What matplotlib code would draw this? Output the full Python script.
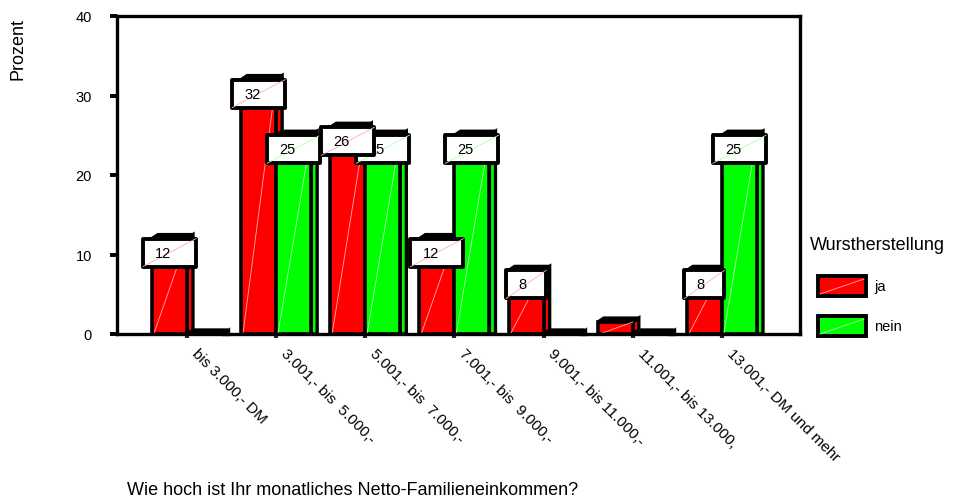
import numpy as np
import matplotlib
matplotlib.use("Agg")
import matplotlib.pyplot as plt
from matplotlib.patches import Polygon, Rectangle
from matplotlib.transforms import ScaledTranslation

plt.rcParams['font.family'] = ['Liberation Sans', 'DejaVu Sans']

# data (Prozent)
categories = ["bis 3.000,- DM", "3.001,- bis  5.000,-", "5.001,- bis  7.000,-",
              "7.001,- bis  9.000,-", "9.001,- bis 11.000,-", "11.001,- bis 13.000,",
              "13.001,- DM und mehr"]
ja = [12, 32, 26, 12, 8, 1.5, 8]
nein = [0, 25, 25, 25, 0, 0, 25]
series_names = ["ja", "nein"]
series_colors = ["#ff0000", "#00ff00"]
diag_colors = ["#ffb0b0", "#b0ffb0"]
yticks = [0, 10, 20, 30, 40]

fig = plt.figure(figsize=(9.54, 5.02), dpi=100)
ax = fig.add_axes([117/954, 1-335/502, (800-117)/954, (335-17)/502])

xmin, xmax = -0.785, 6.875
ymin, ymax = 0, 40
ax.set_xlim(xmin, xmax)
ax.set_ylim(ymin, ymax)

px_x = (800-117) / (xmax - xmin)   # pixels per x unit
px_y = (335-17) / (ymax - ymin)    # pixels per y unit

w = 35 / px_x      # bar front width
dx = 6 / px_x      # 3d depth
dy = 4 / px_y
box_h = 28 / px_y

x = np.arange(len(categories))


def draw_bars(vals, offset, color, diag, z):
    for xi, v in zip(x, vals):
        x0 = xi + offset
        x1 = x0 + w
        # side face
        ax.add_patch(Polygon([[x1, 0], [x1+dx, 0], [x1+dx, v+dy], [x1, v]],
                             closed=True, fc=color, ec="black", lw=2.4, zorder=z, clip_on=False))
        # top face (renders dark in the original)
        ax.add_patch(Polygon([[x0, v], [x0+dx, v+dy], [x1+dx, v+dy], [x1, v]],
                             closed=True, fc="black", ec="black", lw=2.4, zorder=z, clip_on=False))
    ax.bar(x + offset, vals, width=w, align="edge", color=color, edgecolor="black",
           linewidth=2.6, zorder=z+0.1)
    for xi, v in zip(x, vals):
        if v > 0:
            ax.plot([xi+offset+0.02, xi+offset+w], [0, v], color=diag, lw=0.6, zorder=z+0.2)


def draw_labels(vals, offset, diag, z):
    for xi, v in zip(x, vals):
        if v < 3:
            continue
        txt = "%d" % v
        bw = (27 + 13*len(txt)) / px_x
        cx = xi + offset + w/2
        bx = cx - bw/2
        ax.add_patch(Rectangle((bx, v - box_h), bw, box_h, fc="white", ec="black",
                               lw=2.8, zorder=z, joinstyle="round"))
        ax.plot([bx, bx+bw], [v-box_h, v], color=diag, lw=0.6, zorder=z+0.1)
        ax.text(bx + 12/px_x, v - box_h/2, txt, ha="left", va="center",
                fontsize=10.5, zorder=z+0.2)


draw_bars(ja, -w, series_colors[0], diag_colors[0], 2)
draw_bars(nein, 0, series_colors[1], diag_colors[1], 3)
draw_labels(nein, 0, diag_colors[1], 5)
draw_labels(ja, -w, diag_colors[0], 6)

for s in ax.spines.values():
    s.set_linewidth(2.4)
    s.set_zorder(8)

ax.set_yticks(yticks)
ax.set_yticklabels([str(t) for t in yticks], fontsize=10.5)
ax.tick_params(axis="y", direction="out", length=5, width=2.8, pad=13)
ax.set_xticks(x)
ax.set_xticklabels([])
ax.tick_params(axis="x", direction="out", length=3, width=3, color="#222222")

trans = ax.get_xaxis_transform() + ScaledTranslation(7/100, -17/100, fig.dpi_scale_trans)
for xi, lab in zip(x, categories):
    ax.text(xi, 0, lab, transform=trans, rotation=-45, rotation_mode="anchor",
            ha="left", va="center", fontsize=11)

fig.text(18/954, 1-49/502, "Prozent", rotation=90, ha="center", va="center", fontsize=13)
fig.text(127/954, 1-491/502, "Wie hoch ist Ihr monatliches Netto-Familieneinkommen?",
         ha="left", va="center", fontsize=13)

# legend
fig.text(810/954, 1-245/502, "Wurstherstellung", ha="left", va="center", fontsize=13)
for k, (name, col, dc) in enumerate(zip(series_names, series_colors, diag_colors)):
    top = 277 + 40*k
    fig.add_artist(Rectangle((818/954, 1-(top+20)/502), 48/954, 20/502,
                             transform=fig.transFigure, fc=col, ec="black", lw=2.8))
    fig.add_artist(plt.Line2D([820/954, 864/954], [1-(top+18)/502, 1-(top+3)/502],
                              transform=fig.transFigure, color=dc, lw=0.6))
    fig.text(874/954, 1-(top+10)/502, name, ha="left", va="center", fontsize=10.5)

fig.savefig("out.png", dpi=100)
